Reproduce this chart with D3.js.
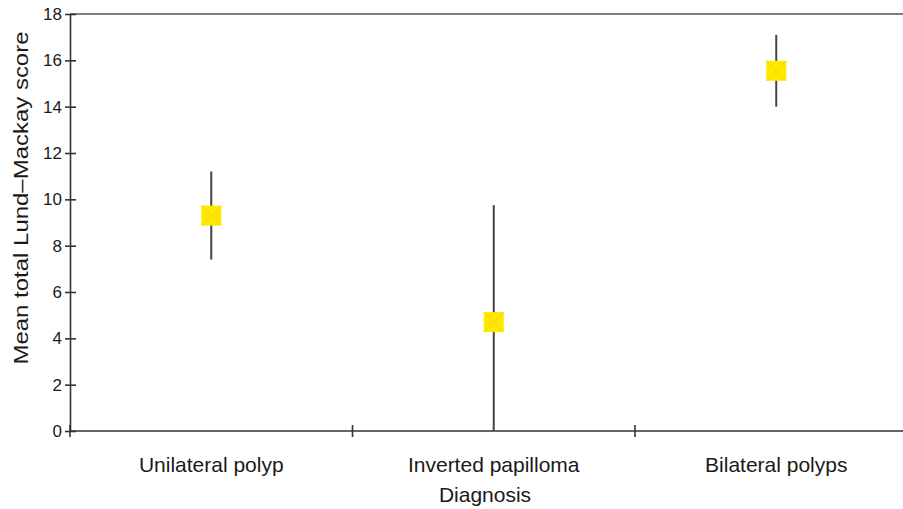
<!DOCTYPE html>
<meta charset="utf-8">
<style>
	body { margin: 0; background: #fff; }
	svg text { font-family: "Liberation Sans", Arial, sans-serif; fill: #1a1a1a; }
	.axis path, .axis line { stroke: #333; stroke-width: 1.6; }
	.axis text { font-size: 17px; fill: #1a1a1a; }
</style>
<script src="https://d3js.org/d3.v7.min.js"></script>
<svg id="chart" width="903" height="509"></svg>
<script>

	var categories = ["Unilateral polyp", "Inverted papilloma", "Bilateral polyps"];
	var means = [9.3, 4.7, 15.55];
	var upper = [11.2, 9.75, 17.1];
	var lower = [7.4, 0, 14.0];
	var yTicks = [0, 2, 4, 6, 8, 10, 12, 14, 16, 18];

	var svg = d3.select("#chart");
	var mLeft = 70, mTop = 14, mBottom = 431, mRight = 917.5;

	var x = d3.scaleBand().domain(categories).range([mLeft, mRight]);
	var y = d3.scaleLinear().domain([0, 18]).range([mBottom, mTop]);

	// top border
	svg.append("line")
		.attr("x1", mLeft).attr("x2", 903)
		.attr("y1", mTop).attr("y2", mTop)
		.attr("stroke", "#555").attr("stroke-width", 1.6);

	// y axis, ticks cross the line
	var yAxis = svg.append("g").attr("class", "axis")
		.attr("transform", "translate(" + mLeft + ",0)")
		.call(d3.axisLeft(y).tickValues(yTicks).tickSize(5).tickSizeOuter(0).tickPadding(3));
	yAxis.selectAll(".tick line").attr("x2", 6).attr("x1", -5);

	// x axis with ticks at band boundaries
	var xAxis = svg.append("g").attr("class", "axis")
		.attr("transform", "translate(0," + mBottom + ")");
	xAxis.append("line").attr("x1", mLeft).attr("x2", 903).attr("y1", 0).attr("y2", 0);
	var bounds = categories.map(function(c) { return x(c); });
	xAxis.selectAll(".xt").data(bounds).enter().append("line")
		.attr("class", "xt")
		.attr("x1", function(d) { return d; }).attr("x2", function(d) { return d; })
		.attr("y1", -6).attr("y2", 6);

	svg.selectAll(".cat").data(categories).enter().append("text")
		.attr("class", "cat")
		.attr("x", function(d) { return x(d) + x.bandwidth() / 2; })
		.attr("y", 472)
		.attr("text-anchor", "middle")
		.style("font-size", "21px")
		.text(function(d) { return d; });

	svg.append("text")
		.attr("x", 485).attr("y", 502)
		.attr("text-anchor", "middle")
		.style("font-size", "21px")
		.text("Diagnosis");

	svg.append("text")
		.attr("transform", "translate(28,198) rotate(-90)")
		.attr("text-anchor", "middle")
		.attr("textLength", 333)
		.attr("lengthAdjust", "spacingAndGlyphs")
		.style("font-size", "21px")
		.text("Mean total Lund\u2013Mackay score");

	var cx = function(i) { return x(categories[i]) + x.bandwidth() / 2; };

	// error bars
	svg.selectAll(".err").data(means).enter().append("line")
		.attr("class", "err")
		.attr("x1", function(d, i) { return cx(i); })
		.attr("x2", function(d, i) { return cx(i); })
		.attr("y1", function(d, i) { return y(upper[i]); })
		.attr("y2", function(d, i) { return y(lower[i]); })
		.attr("stroke", "#444").attr("stroke-width", 2);

	// markers: yellow squares with a faint cross
	var s = 10;
	var mk = svg.selectAll(".mk").data(means).enter().append("g")
		.attr("class", "mk")
		.attr("transform", function(d, i) { return "translate(" + cx(i) + "," + y(d) + ")"; });
	mk.append("rect")
		.attr("x", -s).attr("y", -s).attr("width", 2 * s).attr("height", 2 * s)
		.attr("fill", "#ffe800");
	mk.append("path")
		.attr("d", "M" + (-s) + "," + (-s) + "L" + s + "," + s + "M" + s + "," + (-s) + "L" + (-s) + "," + s)
		.attr("stroke", "#f5d400").attr("stroke-width", 1);

</script>
